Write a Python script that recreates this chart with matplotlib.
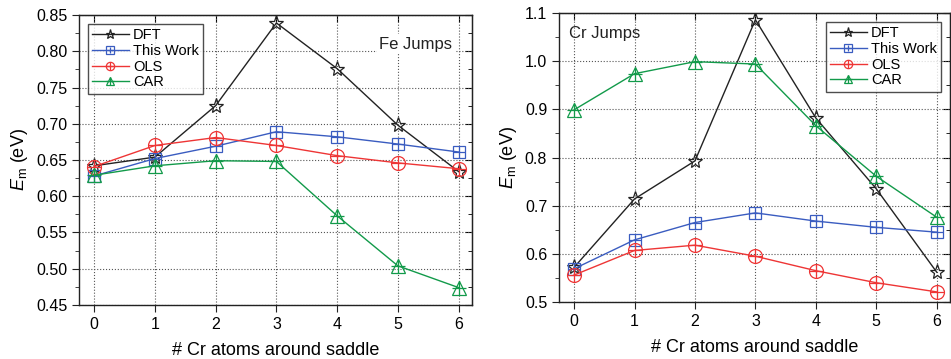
import numpy as np
import matplotlib.pyplot as plt
from matplotlib.ticker import MultipleLocator

plt.rcParams['font.family'] = ['Liberation Sans', 'DejaVu Sans']
plt.rcParams['mathtext.fontset'] = 'custom'
plt.rcParams['mathtext.rm'] = 'Liberation Sans'
plt.rcParams['mathtext.it'] = 'Liberation Sans:italic'

# datos
n_cr = [0, 1, 2, 3, 4, 5, 6]

fe_dft = [0.642, 0.654, 0.725, 0.839, 0.776, 0.698, 0.634]
fe_this = [0.628, 0.652, 0.669, 0.689, 0.682, 0.672, 0.661]
fe_ols = [0.641, 0.670, 0.681, 0.670, 0.656, 0.646, 0.638]
fe_car = [0.629, 0.642, 0.649, 0.648, 0.573, 0.504, 0.474]

cr_dft = [0.572, 0.714, 0.793, 1.086, 0.882, 0.735, 0.562]
cr_this = [0.569, 0.629, 0.665, 0.685, 0.668, 0.655, 0.645]
cr_ols = [0.556, 0.607, 0.618, 0.595, 0.565, 0.540, 0.521]
cr_car = [0.899, 0.974, 0.999, 0.994, 0.866, 0.761, 0.676]

labels = ['DFT', 'This Work', 'OLS', 'CAR']
colors = ['#222222', '#3a5cc0', '#ee3535', '#129a4a']
markers = ['*', 's', 'o', '^']
sizes = [11, 8.5, 10, 10]

W, H = 951, 359
fig = plt.figure(figsize=(W / 100, H / 100), dpi=100)
ax1 = fig.add_axes([79 / W, (H - 305) / H, (472 - 79) / W, (305 - 15) / H])
ax2 = fig.add_axes([559 / W, (H - 302) / H, (950 - 559) / W, (302 - 13) / H])


def draw(ax, series, ylim, ymaj, ymin, legend_loc):
    handles = []
    for ys, c, m, s in zip(series, colors, markers, sizes):
        ln, = ax.plot(n_cr, ys, color=c, lw=1.0, marker=m, ms=s,
                      mfc='none', mec=c, mew=0.9, zorder=3)
        if m != '*':
            pl, = ax.plot(n_cr, ys, ls='none', marker='+', ms=s * 0.95,
                          mec=c, mew=0.9, zorder=3)
            handles.append((ln, pl))
        else:
            handles.append(ln)
    ax.set_xlim(-0.25, 6.22)
    ax.set_ylim(*ylim)
    ax.xaxis.set_major_locator(MultipleLocator(1))
    ax.yaxis.set_major_locator(MultipleLocator(ymaj))
    ax.yaxis.set_minor_locator(MultipleLocator(ymin))
    ax.grid(True, which='major', ls=':', color='#555555', lw=0.8)
    ax.tick_params(which='both', direction='out', labelsize=11.5, color='#222222')
    ax.tick_params(which='major', length=5)
    ax.tick_params(which='minor', length=3)
    for sp in ax.spines.values():
        sp.set_linewidth(1.0)
        sp.set_color('#222222')
    # ticks espejo hacia dentro
    sx = ax.secondary_xaxis('top')
    sx.xaxis.set_major_locator(MultipleLocator(1))
    sx.tick_params(direction='in', length=5, labeltop=False)
    sy = ax.secondary_yaxis('right')
    sy.yaxis.set_major_locator(MultipleLocator(ymaj))
    sy.yaxis.set_minor_locator(MultipleLocator(ymin))
    sy.tick_params(which='both', direction='in', labelright=False)
    sy.tick_params(which='major', length=5)
    sy.tick_params(which='minor', length=3)
    ax.set_xlabel('# Cr atoms around saddle', fontsize=13, labelpad=7)
    ax.set_ylabel(r'$E_{\mathrm{m}}$ (eV)', fontsize=13, labelpad=4)
    leg = ax.legend(handles, labels, loc=legend_loc, fontsize=10.5,
                    frameon=True, fancybox=False, edgecolor='#222222',
                    handlelength=2.5, handletextpad=0.3, labelspacing=0.12,
                    borderpad=0.3, borderaxespad=0.6, markerscale=0.6)
    leg.get_frame().set_linewidth(1.0)
    leg.set_zorder(5)


draw(ax1, [fe_dft, fe_this, fe_ols, fe_car], (0.45, 0.85), 0.05, 0.025, 'upper left')
ax1.text(0.95, 0.90, 'Fe Jumps', transform=ax1.transAxes, ha='right', va='center',
         fontsize=12, color='#222222', bbox=dict(fc='white', ec='none', pad=2))
ax1.yaxis.set_major_formatter(plt.FormatStrFormatter('%.2f'))

draw(ax2, [cr_dft, cr_this, cr_ols, cr_car], (0.5, 1.1), 0.1, 0.05, 'upper right')
ax2.text(0.025, 0.93, 'Cr Jumps', transform=ax2.transAxes, ha='left', va='center',
         fontsize=12, color='#222222')
ax2.yaxis.set_major_formatter(plt.FormatStrFormatter('%.1f'))

fig.savefig('out.png', dpi=100)
